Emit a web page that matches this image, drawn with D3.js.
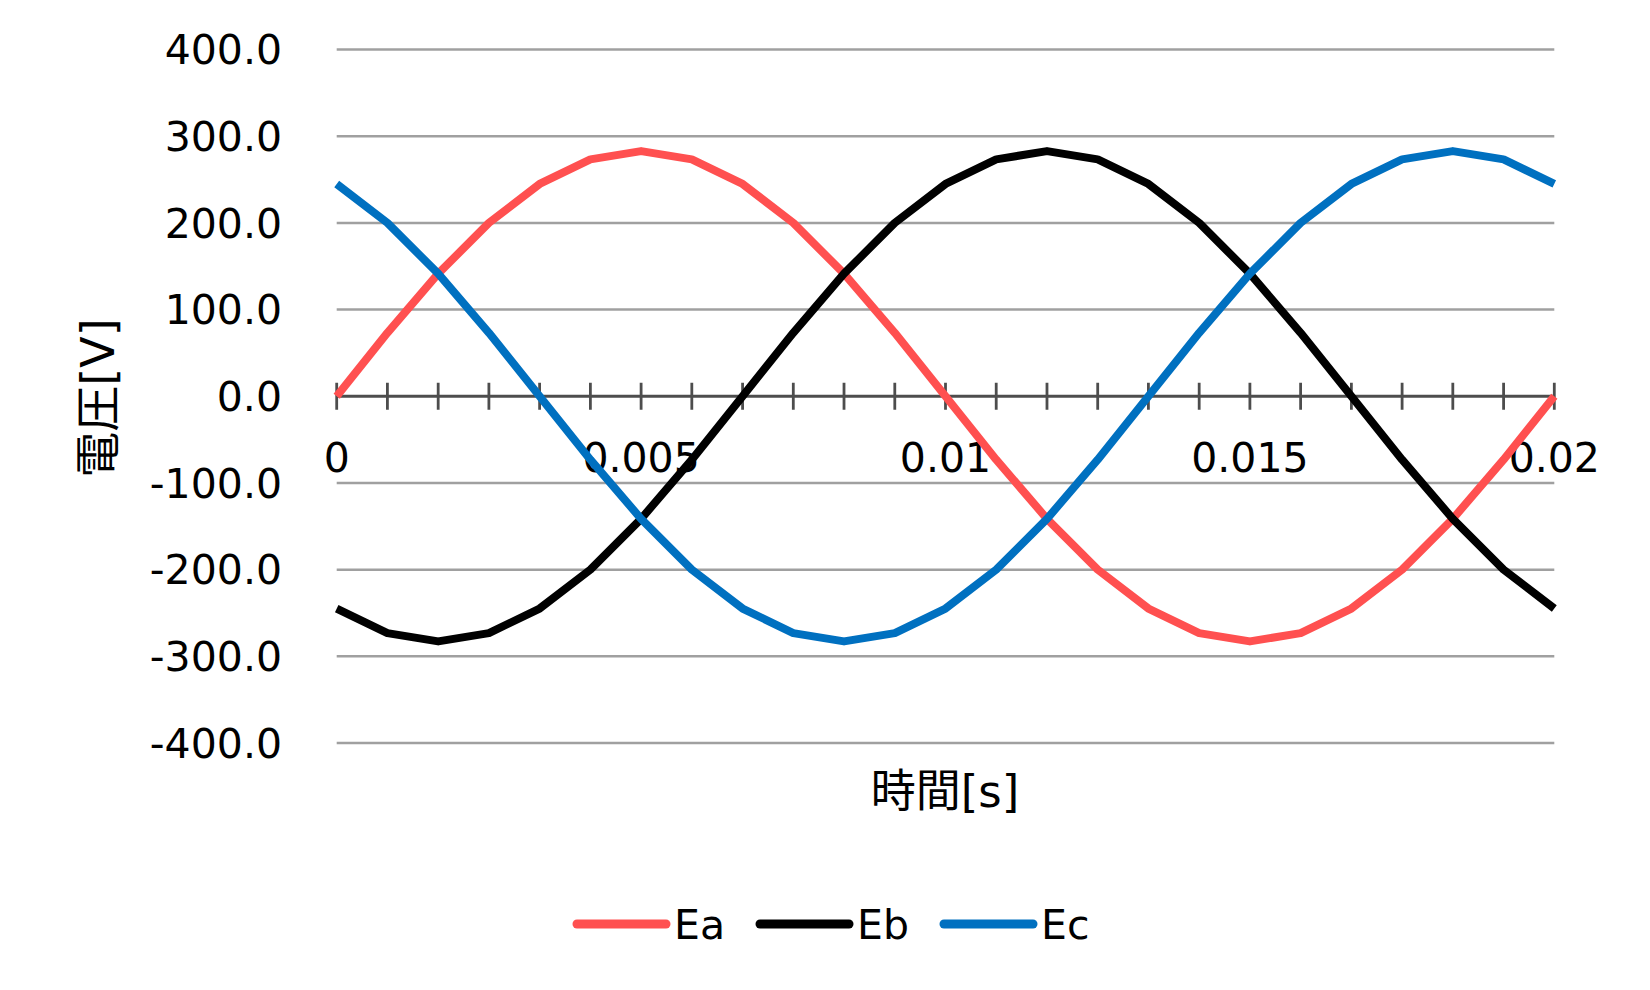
<!DOCTYPE html>
<html>
<head>
<meta charset="utf-8">
<script src="https://cdn.jsdelivr.net/npm/d3@7"></script>
<style>
  body { margin: 0; background: #fff; }
  text { font-family: "DejaVu Sans", "Noto Sans CJK JP", sans-serif; fill: #000; }
</style>
</head>
<body>
<div class="chart"></div>
<script>
// time points [s]
var times = [0, 0.000833, 0.001667, 0.0025, 0.003333, 0.004167, 0.005, 0.005833, 0.006667, 0.0075,
  0.008333, 0.009167, 0.01, 0.010833, 0.011667, 0.0125, 0.013333, 0.014167, 0.015, 0.015833,
  0.016667, 0.0175, 0.018333, 0.019167, 0.02];

var ea = [0, 73.2, 141.4, 200, 244.9, 273.2, 282.8, 273.2, 244.9, 200, 141.4, 73.2, 0,
  -73.2, -141.4, -200, -244.9, -273.2, -282.8, -273.2, -244.9, -200, -141.4, -73.2, 0];
var eb = [-244.9, -273.2, -282.8, -273.2, -244.9, -200, -141.4, -73.2, 0, 73.2, 141.4, 200, 244.9,
  273.2, 282.8, 273.2, 244.9, 200, 141.4, 73.2, 0, -73.2, -141.4, -200, -244.9];
var ec = [244.9, 200, 141.4, 73.2, 0, -73.2, -141.4, -200, -244.9, -273.2, -282.8, -273.2, -244.9,
  -200, -141.4, -73.2, 0, 73.2, 141.4, 200, 244.9, 273.2, 282.8, 273.2, 244.9];

var seriesNames = ["Ea", "Eb", "Ec"];
var seriesColors = ["#FF5050", "#000000", "#0070C0"];
var xTickLabels = [0, 0.005, 0.01, 0.015, 0.02];
var yTickLabels = [400, 300, 200, 100, 0, -100, -200, -300, -400];

var allSeries = [ea, eb, ec];

var svg = d3.select('.chart').append('svg')
  .attr('width', 1650)
  .attr('height', 990);

var x = d3.scaleLinear().domain([0, 0.02]).range([336.7, 1554.3]);
var y = d3.scaleLinear().domain([-400, 400]).range([743, 49.5]);

// gridlines
svg.append('g').selectAll('line')
  .data(yTickLabels.filter(function(d){ return d !== 0; }))
  .enter().append('line')
  .attr('x1', x(0)).attr('x2', x(0.02))
  .attr('y1', function(d){ return y(d); })
  .attr('y2', function(d){ return y(d); })
  .attr('stroke', '#a0a0a0')
  .attr('stroke-width', 2.5);

// y labels (plain hyphen for minus, like the original)
svg.append('g').selectAll('text')
  .data(yTickLabels)
  .enter().append('text')
  .attr('x', 282)
  .attr('y', function(d){ return y(d); })
  .attr('dy', '0.36em')
  .attr('text-anchor', 'end')
  .style('font-size', '41px')
  .text(function(d){ return d3.format('.1f')(d).replace('\u2212', '-'); });

// x axis line + cross ticks
var y0 = y(0);
svg.append('line')
  .attr('x1', x(0)).attr('x2', x(0.02))
  .attr('y1', y0).attr('y2', y0)
  .attr('stroke', '#4d4d4d').attr('stroke-width', 2.8);

svg.append('g').selectAll('line')
  .data(times)
  .enter().append('line')
  .attr('x1', function(d){ return x(d); })
  .attr('x2', function(d){ return x(d); })
  .attr('y1', y0 - 13.5).attr('y2', y0 + 13.5)
  .attr('stroke', '#4d4d4d').attr('stroke-width', 2.8);

// x labels
svg.append('g').selectAll('text')
  .data(xTickLabels)
  .enter().append('text')
  .attr('x', function(d){ return x(d); })
  .attr('y', 472)
  .attr('text-anchor', 'middle')
  .style('font-size', '41px')
  .text(function(d){ return String(d); });

// series
var line = d3.line()
  .x(function(d, i){ return x(times[i]); })
  .y(function(d){ return y(d); });

allSeries.forEach(function(s, k){
  svg.append('path')
    .datum(s)
    .attr('d', line)
    .attr('fill', 'none')
    .attr('stroke', seriesColors[k])
    .attr('stroke-width', 8)
    .attr('stroke-linejoin', 'round');
});

// axis titles
svg.append('text')
  .attr('x', 945).attr('y', 807)
  .attr('text-anchor', 'middle')
  .style('font-size', '45px')
  .text('時間[s]');

svg.append('text')
  .attr('transform', 'translate(114,398) rotate(-90)')
  .attr('text-anchor', 'middle')
  .style('font-size', '46px')
  .text('電圧[V]');

// legend
var legendX = [577, 760, 944];
seriesNames.forEach(function(n, k){
  var g = svg.append('g');
  g.append('line')
    .attr('x1', legendX[k]).attr('x2', legendX[k] + 89)
    .attr('y1', 924).attr('y2', 924)
    .attr('stroke', seriesColors[k])
    .attr('stroke-width', 9)
    .attr('stroke-linecap', 'round');
  g.append('text')
    .attr('x', legendX[k] + 97).attr('y', 924)
    .attr('dy', '0.36em')
    .style('font-size', '41px')
    .text(n);
});
</script>
</body>
</html>
